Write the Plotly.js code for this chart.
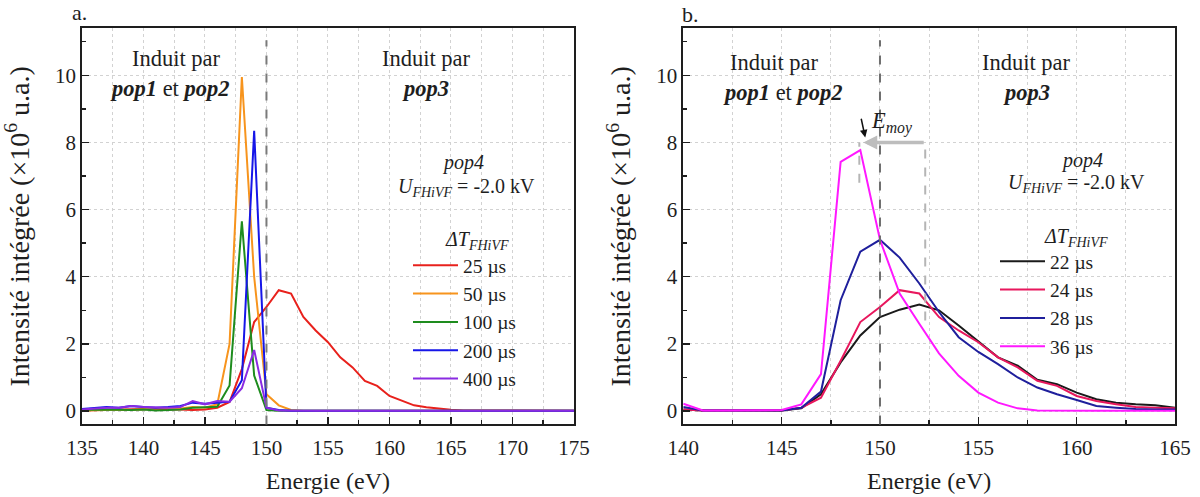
<!DOCTYPE html>
<html>
<head>
<meta charset="utf-8">
<script src="https://cdn.plot.ly/plotly-3.0.1.min.js"></script>
<style>
html,body{margin:0;padding:0;background:#fff;}
#chart{width:1200px;height:497px;}
</style>
</head>
<body>
<div id="chart"></div>
<script>
// ---- Panel a: energies (eV) and integrated intensities (x10^6 a.u.)
const energyA = [135,136,137,138,139,140,141,142,143,144,145,146,147,148,149,150,151,152,153,154,155,156,157,158,159,160,161,162,163,164,165,166,167,168,169,170,171,172,173,174,175];
const dt25 = [0.02,0.03,0.04,0.05,0.05,0.06,0.05,0.06,0.05,0.03,0.05,0.1,0.27,1.25,2.65,3.1,3.6,3.5,2.8,2.4,2.05,1.6,1.3,0.9,0.75,0.45,0.3,0.17,0.11,0.07,0.04,0.02,0.02,0.01,0.01,0.02,0.01,0.01,0.01,0.01,0.01];
const dt50 = [0.02,0.03,0.02,0.04,0.03,0.05,0.06,0.1,0.08,0.12,0.1,0.2,2.0,9.95,4.0,0.5,0.17,0.03,0.01,0.01,0.01,0.01,0.01,0.01,0.01,0.01,0.01,0.01,0.01,0.01,0.01,0.01,0.01,0.01,0.01,0.01,0.01,0.01,0.01,0.01,0.01];
const dt100 = [0.04,0.05,0.05,0.04,0.03,0.05,0.02,0.03,0.05,0.1,0.12,0.13,0.76,5.65,1.06,0.03,0.01,0.01,0.01,0.01,0.01,0.01,0.01,0.01,0.01,0.01,0.01,0.01,0.01,0.01,0.01,0.01,0.01,0.01,0.01,0.01,0.01,0.01,0.01,0.01,0.01];
const dt200 = [0.06,0.1,0.12,0.1,0.15,0.12,0.1,0.12,0.15,0.25,0.22,0.25,0.28,0.92,8.35,0.1,0.03,0.01,0.01,0.01,0.01,0.01,0.01,0.01,0.01,0.01,0.01,0.01,0.01,0.01,0.01,0.01,0.01,0.01,0.01,0.01,0.01,0.01,0.01,0.01,0.01];
const dt400 = [0.05,0.08,0.1,0.1,0.15,0.12,0.1,0.1,0.12,0.3,0.2,0.3,0.28,0.68,1.82,0.1,0.02,0.01,0.01,0.01,0.01,0.01,0.01,0.01,0.01,0.01,0.01,0.01,0.01,0.01,0.01,0.01,0.01,0.01,0.01,0.01,0.01,0.01,0.01,0.01,0.01];
const namesA = ['25 µs','50 µs','100 µs','200 µs','400 µs'];

// ---- Panel b
const energyB = [140,141,142,143,144,145,146,147,148,149,150,151,152,153,154,155,156,157,158,159,160,161,162,163,164,165];
const dt22 = [0.05,0.02,0.02,0.02,0.02,0.02,0.08,0.5,1.45,2.25,2.8,3.02,3.17,3.0,2.55,2.08,1.6,1.35,0.93,0.8,0.55,0.35,0.25,0.2,0.17,0.1];
const dt24 = [0.05,0.02,0.02,0.02,0.02,0.02,0.1,0.4,1.5,2.65,3.1,3.6,3.5,2.8,2.4,2.05,1.6,1.3,0.9,0.75,0.45,0.3,0.2,0.12,0.1,0.08];
const dt28 = [0.12,0.02,0.02,0.02,0.02,0.02,0.1,0.58,3.3,4.75,5.1,4.57,3.8,2.95,2.2,1.76,1.4,1.0,0.7,0.5,0.33,0.15,0.1,0.06,0.05,0.05];
const dt36 = [0.22,0.02,0.02,0.02,0.02,0.03,0.2,1.1,7.42,7.77,5.1,3.5,2.6,1.72,1.05,0.55,0.25,0.08,0.02,0.01,0.01,0.01,0.01,0.01,0.01,0.01];
const namesB = ['22 µs','24 µs','28 µs','36 µs'];

const colorsA = ['#e8211c','#f7941d','#1e8c1e','#1616e8','#8a2be2'];
const colorsB = ['#1a1a1a','#e8175d','#1f1f9c','#ff18ff'];

const seriesA = [dt25, dt50, dt100, dt200, dt400];
const seriesB = [dt22, dt24, dt28, dt36];

const traces = [];
seriesA.forEach((s, i) => traces.push({
  x: energyA, y: s, type: 'scatter', mode: 'lines', name: namesA[i],
  line: {color: colorsA[i], width: 2}, xaxis: 'x', yaxis: 'y', legend: 'legend'
}));
seriesB.forEach((s, i) => traces.push({
  x: energyB, y: s, type: 'scatter', mode: 'lines', name: namesB[i],
  line: {color: colorsB[i], width: 2}, xaxis: 'x2', yaxis: 'y2', legend: 'legend2'
}));

const FONT = 'Liberation Serif';
const TXT = '#1e1e1e';

function xAx(domain, range, anchor) {
  return {
    domain: domain, range: range, anchor: anchor, dtick: 5, tick0: 135,
    ticks: 'inside', ticklen: 7, tickwidth: 1.5, tickcolor: TXT,
    showline: true, linecolor: TXT, linewidth: 1.8, mirror: true,
    showgrid: true, gridcolor: '#d2d2d2', griddash: 'dot', gridwidth: 1,
    zeroline: false, automargin: false, ticklabelstandoff: 4,
    tickfont: {family: FONT, size: 21, color: TXT},
    minor: {dtick: 2.5, ticks: 'inside', ticklen: 4, tickcolor: TXT, showgrid: true, gridcolor: '#d2d2d2', griddash: 'dot'},
    title: {text: 'Energie (eV)', font: {family: FONT, size: 24, color: TXT}, standoff: 13}
  };
}
function yAx(anchor) {
  return {
    domain: [0.1459, 0.9431], range: [-0.4, 11.4], anchor: anchor, dtick: 2, tick0: 0,
    ticks: 'inside', ticklen: 7, tickwidth: 1.5, tickcolor: TXT,
    showline: true, linecolor: TXT, linewidth: 1.8, mirror: true,
    showgrid: true, gridcolor: '#d2d2d2', griddash: 'dot', gridwidth: 1,
    zeroline: false, automargin: false,
    tickfont: {family: FONT, size: 21, color: TXT},
    minor: {dtick: 1, ticks: 'inside', ticklen: 4, tickcolor: TXT, showgrid: false},
    title: {text: 'Intensité intégrée (×10<sup>6</sup> u.a.)', font: {family: FONT, size: 28, color: TXT}, standoff: 17}
  };
}

function ann(x, y, text, xr, yr, extra) {
  return Object.assign({x: x, y: y, xref: xr, yref: yr, text: text, showarrow: false,
    font: {family: FONT, size: 22.5, color: TXT}, xanchor: 'center', yanchor: 'middle'}, extra || {});
}
const F20 = {font: {family: FONT, size: 20, color: TXT}};

const annotations = [
  ann(70/1200, 1 - 13/497, 'a.', 'paper', 'paper', {xanchor: 'left', font: {family: FONT, size: 22, color: TXT}}),
  ann(680/1200, 1 - 15/497, 'b.', 'paper', 'paper', {xanchor: 'left', font: {family: FONT, size: 22, color: TXT}}),
  // panel a
  ann(142.67, 10.5, 'Induit par', 'x', 'y'),
  ann(142.18, 9.62, '<b><i>pop1</i></b> et <b><i>pop2</i></b>', 'x', 'y'),
  ann(163.0, 10.5, 'Induit par', 'x', 'y'),
  ann(162.9, 9.62, '<b><i>pop3</i></b>', 'x', 'y'),
  ann(166.0, 7.4, '<i>pop4</i>', 'x', 'y', F20),
  ann(166.3, 6.66, '<i>U<sub>FHiVF</sub></i> = -2.0 kV', 'x', 'y', F20),
  ann(167.1, 5.08, '<i>ΔT<sub>FHiVF</sub></i>', 'x', 'y', F20),
  // panel b
  ann(144.65, 10.38, 'Induit par', 'x2', 'y2'),
  ann(145.05, 9.48, '<b><i>pop1</i></b> et <b><i>pop2</i></b>', 'x2', 'y2'),
  ann(157.45, 10.38, 'Induit par', 'x2', 'y2'),
  ann(157.45, 9.48, '<b><i>pop3</i></b>', 'x2', 'y2'),
  ann(160.27, 7.47, '<i>pop4</i>', 'x2', 'y2', F20),
  ann(160.0, 6.79, '<i>U<sub>FHiVF</sub></i> = -2.0 kV', 'x2', 'y2', F20),
  ann(159.97, 5.18, '<i>ΔT<sub>FHiVF</sub></i>', 'x2', 'y2', F20),
  ann(150.6, 8.6, '<i>E<sub>moy</sub></i>', 'x2', 'y2'),
  // grey arrow (mean energy shift)
  {x: 149.15, y: 8.0, xref: 'x2', yref: 'y2', ax: 152.3, ay: 8.0, axref: 'x2', ayref: 'y2',
   text: '', showarrow: true, arrowhead: 2, arrowsize: 0.8, arrowwidth: 3.5, arrowcolor: '#bdbdbd'},
  // black small arrow
  {x: 149.25, y: 8.15, xref: 'x2', yref: 'y2', ax: 149.03, ay: 8.75, axref: 'x2', ayref: 'y2',
   text: '', showarrow: true, arrowhead: 2, arrowsize: 1, arrowwidth: 1.5, arrowcolor: '#111'}
];

const shapes = [
  {type: 'line', xref: 'x', yref: 'y domain', x0: 150, x1: 150, y0: 0, y1: 0.97, line: {color: '#7a7a7a', width: 2, dash: 'dash'}},
  {type: 'line', xref: 'x2', yref: 'y2 domain', x0: 150, x1: 150, y0: 0, y1: 0.97, line: {color: '#6e6e6e', width: 2, dash: 'dash'}},
  {type: 'line', xref: 'x2', yref: 'y2', x0: 152.3, x1: 152.3, y0: 2.7, y1: 8.0, line: {color: '#b5b5b5', width: 2, dash: 'dash'}},
  {type: 'line', xref: 'x2', yref: 'y2', x0: 148.95, x1: 148.95, y0: 6.8, y1: 8.0, line: {color: '#b5b5b5', width: 2, dash: 'dash'}}
];

const legendBase = {
  xanchor: 'left', yanchor: 'top', bgcolor: 'rgba(0,0,0,0)', borderwidth: 0,
  font: {family: FONT, size: 19.5, color: TXT}, itemwidth: 45, tracegroupgap: 0
};

const layout = {
  width: 1200, height: 497,
  margin: {l: 0, r: 0, t: 0, b: 0},
  paper_bgcolor: '#fff', plot_bgcolor: '#fff',
  font: {family: FONT, size: 20, color: TXT},
  showlegend: true,
  xaxis: xAx([0.0683, 0.4783], [135, 175], 'y'),
  yaxis: yAx('x'),
  xaxis2: xAx([0.5694, 0.9792], [140, 165], 'y2'),
  yaxis2: yAx('x2'),
  legend: Object.assign({x: 408/1200, y: 1 - 246/497}, legendBase),
  legend2: Object.assign({x: 995/1200, y: 1 - 242/497}, legendBase),
  annotations: annotations,
  shapes: shapes
};

Plotly.newPlot('chart', traces, layout, {displayModeBar: false, staticPlot: true});
</script>
</body>
</html>
